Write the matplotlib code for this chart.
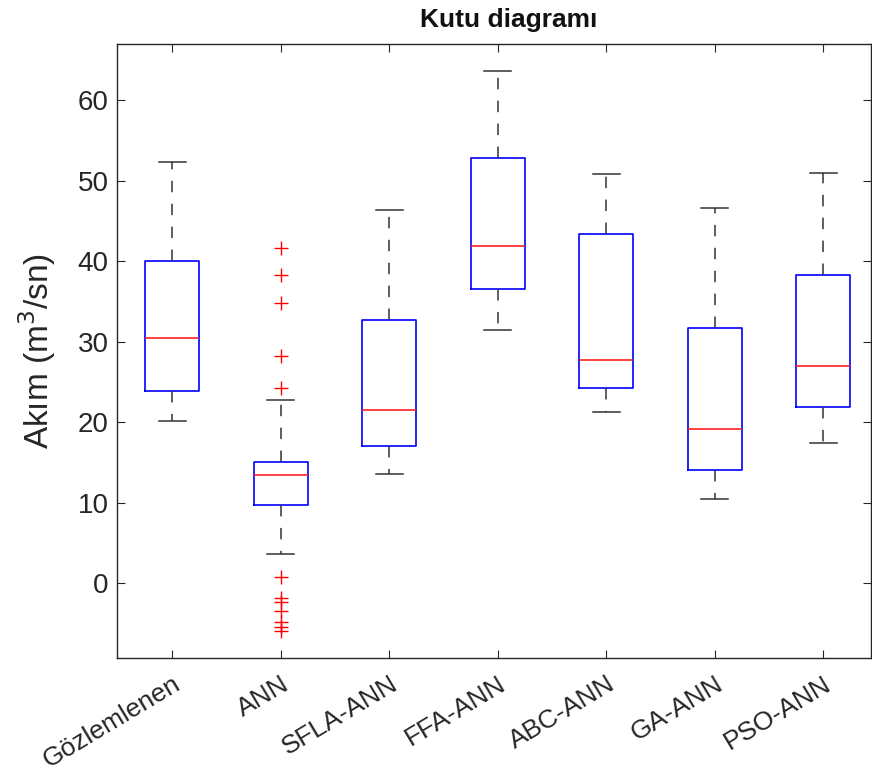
import matplotlib
matplotlib.use("Agg")
import matplotlib.pyplot as plt

plt.rcParams['font.family'] = ['Liberation Sans', 'DejaVu Sans']

categories = ["Gözlemlenen", "ANN", "SFLA-ANN", "FFA-ANN", "ABC-ANN", "GA-ANN", "PSO-ANN"]
whislo = [20.2, 3.6, 13.6, 31.5, 21.3, 10.5, 17.4]
q1 = [23.9, 9.7, 17.0, 36.5, 24.2, 14.1, 21.9]
med = [30.5, 13.4, 21.5, 41.9, 27.7, 19.1, 27.0]
q3 = [40.0, 15.0, 32.7, 52.8, 43.4, 31.7, 38.3]
whishi = [52.3, 22.8, 46.4, 63.7, 50.8, 46.6, 51.0]
fliers = [
    [],
    [41.6, 38.3, 34.8, 28.2, 24.2, 0.8, -1.9, -2.4, -3.4, -4.8, -5.4, -6.0],
    [], [], [], [], [],
]

stats = []
for i, name in enumerate(categories):
    stats.append(dict(label=name, whislo=whislo[i], q1=q1[i], med=med[i],
                      q3=q3[i], whishi=whishi[i], fliers=fliers[i]))

fig = plt.figure(figsize=(8.72, 7.78), dpi=100)
ax = fig.add_axes([117/872, 1-658/778, (871-117)/872, (658-44)/778])

axc = '#262626'
ax.bxp(stats, positions=range(1, 8), widths=0.5, capwidths=0.25,
       boxprops=dict(color='#0000ff', linewidth=1.2),
       medianprops=dict(color='#ff2020', linewidth=1.2),
       whiskerprops=dict(color='#333333', linewidth=1.1, linestyle=(0, (7.5, 7.5))),
       capprops=dict(color='#333333', linewidth=1.1),
       flierprops=dict(marker='+', markeredgecolor='#ff0000', markersize=10,
                       markeredgewidth=1.0, linestyle='none'))

ax.set_xlim(0.49, 7.44)
ax.set_ylim(-9.3, 67.0)
ax.set_yticks([0, 10, 20, 30, 40, 50, 60])
ax.set_xticks(range(1, 8))
ax.set_xticklabels(categories, rotation=31, ha='right', rotation_mode='anchor',
                   fontsize=19, color=axc)
for lab in ax.get_yticklabels():
    lab.set_fontsize(20)
    lab.set_color(axc)

ax.tick_params(direction='in', top=True, right=True, length=6, width=0.8,
               colors=axc, pad=6)
ax.tick_params(axis='x', pad=10)
for s in ax.spines.values():
    s.set_color(axc)
    s.set_linewidth(1.0)

ax.set_ylabel("Akım (m$^3$/sn)", fontsize=24, color=axc, labelpad=14)
ax.set_title("Kutu diagramı", fontsize=19, fontweight='bold', color='#111111',
             pad=12, x=0.52)

fig.savefig("out.png", dpi=100)
